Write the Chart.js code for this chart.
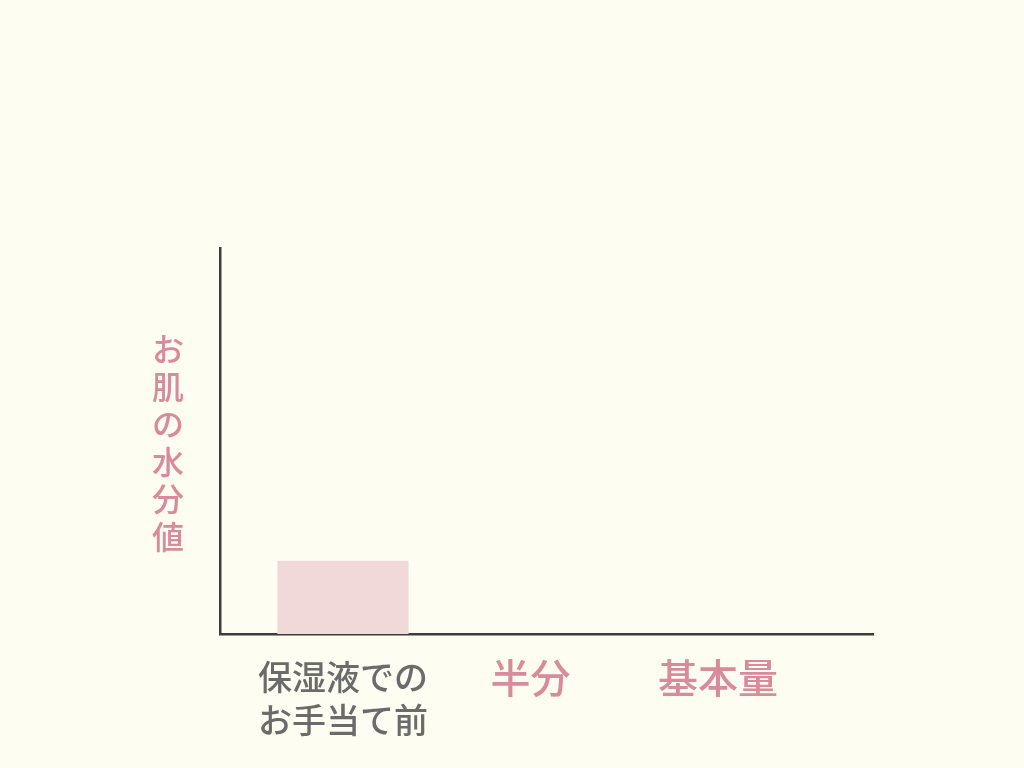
<!DOCTYPE html>
<html>
<head>
<meta charset="utf-8">
<script src="https://cdn.jsdelivr.net/npm/chart.js@4"></script>
<style>
  html, body { margin: 0; padding: 0; background: #fdfdf1; }
  #wrap { width: 1024px; height: 768px; }
</style>
</head>
<body>
<div id="wrap"><canvas id="chart1"></canvas></div>
<script>
// categories & values
var categories = [['保湿液での', 'お手当て前'], '半分', '基本量'];
var positions = [0, 1, 2];
var moisture = [19, null, null]; // お肌の水分値 (only the first bar is shown)
var yTitle = 'お肌の水分値';

var pink = '#d98a9b';
var gray = '#6b6b6b';

// draw the y title as stacked characters (vertical Japanese)
var verticalTitle = {
    id: 'verticalTitle',
    afterDraw: function(chart) {
        var c = chart.ctx, area = chart.chartArea;
        c.save();
        c.fillStyle = pink;
        c.font = '500 32px "Noto Sans CJK JP"';
        c.textAlign = 'center';
        c.textBaseline = 'middle';
        var chars = Array.from(yTitle);
        var step = 37.5;
        var mid = (area.top + area.bottom) / 2 + 2;
        var start = mid - (chars.length - 1) * step / 2;
        for (var i = 0; i < chars.length; i++) {
            c.fillText(chars[i], area.left - 52, start + i * step);
        }
        c.restore();
    }
};

var ctx = document.getElementById('chart1').getContext('2d');
var chart = new Chart(ctx, {
    type: 'bar',
    data: {
        datasets: [{
            data: positions.map(function(p, i) { return { x: p, y: moisture[i] }; }),
            backgroundColor: '#f1d9d8',
            borderWidth: 0,
            barPercentage: 0.7,
            categoryPercentage: 1
        }]
    },
    options: {
        responsive: true,
        maintainAspectRatio: false,
        animation: false,
        layout: { padding: { left: 212, top: 248, right: 151, bottom: 13 } },
        plugins: { legend: { display: false }, tooltip: { enabled: false } },
        scales: {
            x: {
                type: 'linear',
                offset: false,
                min: -0.656,
                max: 2.827,
                grid: { display: false },
                border: { display: true, color: '#3d3d3d', width: 2.5 },
                ticks: {
                    stepSize: 1,
                    includeBounds: false,
                    autoSkip: false,
                    maxRotation: 0,
                    padding: 14,
                    callback: function(v) {
                        var i = positions.indexOf(v);
                        return i < 0 ? '' : categories[i];
                    },
                    color: function(c) { return c.tick && c.tick.value === 0 ? gray : pink; },
                    font: function(c) {
                        if (c.tick && c.tick.value === 0) {
                            return { family: '"Noto Sans CJK JP"', size: 34, weight: 500, lineHeight: 1.25 };
                        }
                        return { family: '"Noto Sans CJK JP"', size: 40, weight: 500, lineHeight: 1.1 };
                    }
                }
            },
            y: {
                min: 0,
                max: 100,
                grid: { display: false },
                border: { display: true, color: '#3d3d3d', width: 2.5 },
                ticks: { display: false }
            }
        }
    },
    plugins: [verticalTitle]
});
</script>
</body>
</html>
